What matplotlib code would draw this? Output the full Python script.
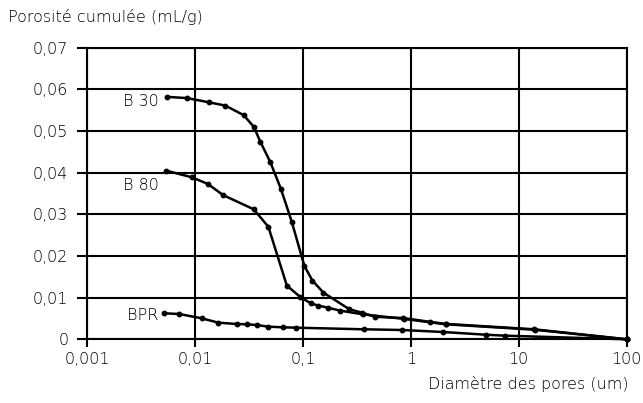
import matplotlib
matplotlib.use("Agg")
import matplotlib.pyplot as plt
from matplotlib.ticker import FixedLocator, FixedFormatter, NullLocator

# Data (pore diameter in um, cumulative porosity in mL/g)
b30_x = [0.00554, 0.00846, 0.01343, 0.01914, 0.0283, 0.0351, 0.0404, 0.0500,
         0.0624, 0.0789, 0.1033, 0.1225, 0.155, 0.270, 0.352, 0.467, 0.853,
         1.49, 2.11, 13.9, 100]
b30_y = [0.0582, 0.0579, 0.0569, 0.0561, 0.0538, 0.0510, 0.0474, 0.0425,
         0.0362, 0.0282, 0.0176, 0.0141, 0.0112, 0.0072, 0.0064, 0.0054, 0.0051,
         0.0042, 0.0037, 0.0024, 0.0]

b80_x = [0.0054, 0.00933, 0.01315, 0.0183, 0.0351, 0.0479, 0.0710, 0.0942,
         0.119, 0.139, 0.170, 0.219, 0.36, 0.86, 2.1, 14.0, 100]
b80_y = [0.0405, 0.0389, 0.0373, 0.0346, 0.0312, 0.0270, 0.0129, 0.0102,
         0.0086, 0.0081, 0.0076, 0.0069, 0.0060, 0.0049, 0.0036, 0.0023, 0.0]

bpr_x = [0.00520, 0.00716, 0.01156, 0.01648, 0.0244, 0.0306, 0.0374, 0.0479,
         0.0651, 0.0860, 0.369, 0.836, 2.0, 4.96, 7.48, 100]
bpr_y = [0.00624, 0.00607, 0.00504, 0.00399, 0.00367, 0.00360, 0.00343, 0.00303,
         0.00288, 0.00279, 0.0024, 0.00223, 0.00175, 0.0011, 0.00087, 0.0]

series_names = ["B 30", "B 80", "BPR"]

x_ticks = [0.001, 0.01, 0.1, 1, 10, 100]
x_tick_labels = ["0,001", "0,01", "0,1", "1", "10", "100"]
y_ticks = [0, 0.01, 0.02, 0.03, 0.04, 0.05, 0.06, 0.07]
y_tick_labels = ["0", "0,01", "0,02", "0,03", "0,04", "0,05", "0,06", "0,07"]

plt.rcParams['font.family'] = ['DejaVu Sans']
plt.rcParams['font.weight'] = 'light'
FS = 11.5
TC = 'black'

fig = plt.figure(figsize=(6.43, 4.03), dpi=100)
ax = fig.add_axes([87/643, 1 - 339.3/403, (626.7-87)/643, (339.3-47.7)/403])

for xs, ys in [(b30_x, b30_y), (b80_x, b80_y), (bpr_x, bpr_y)]:
    ax.plot(xs, ys, color='black', lw=1.8, marker='o', markersize=3.2,
            clip_on=False, zorder=3)

ax.set_xscale('log')
ax.set_xlim(0.001, 100)
ax.set_ylim(0, 0.07)
ax.xaxis.set_major_locator(FixedLocator(x_ticks))
ax.xaxis.set_major_formatter(FixedFormatter(x_tick_labels))
ax.xaxis.set_minor_locator(NullLocator())
ax.yaxis.set_major_locator(FixedLocator(y_ticks))
ax.yaxis.set_major_formatter(FixedFormatter(y_tick_labels))

ax.grid(True, color='black', lw=1.5)
for s in ax.spines.values():
    s.set_linewidth(1.5)
    s.set_color('black')
ax.tick_params(axis='y', direction='out', length=7.5, width=1.5, labelsize=FS,
               color='black', labelcolor=TC, pad=6)
ax.tick_params(axis='x', direction='out', length=5.5, width=1.5, labelsize=FS,
               color='black', labelcolor=TC, pad=4)

# series labels
ax.text(0.00467, 0.0570, series_names[0], ha='right', va='center', fontsize=FS, color=TC)
ax.text(0.00467, 0.0370, series_names[1], ha='right', va='center', fontsize=FS, color=TC)
ax.text(0.00454, 0.0056, series_names[2], ha='right', va='center', fontsize=FS, color=TC)

fig.text(8/643, 1 - 17/403, "Porosité cumulée (mL/g)", ha='left', va='center',
         fontsize=FS, color=TC)
fig.text(628/643, 1 - 384/403, "Diamètre des pores (um)", ha='right',
         va='center', fontsize=FS, color=TC)

fig.savefig("out.png", dpi=100)
